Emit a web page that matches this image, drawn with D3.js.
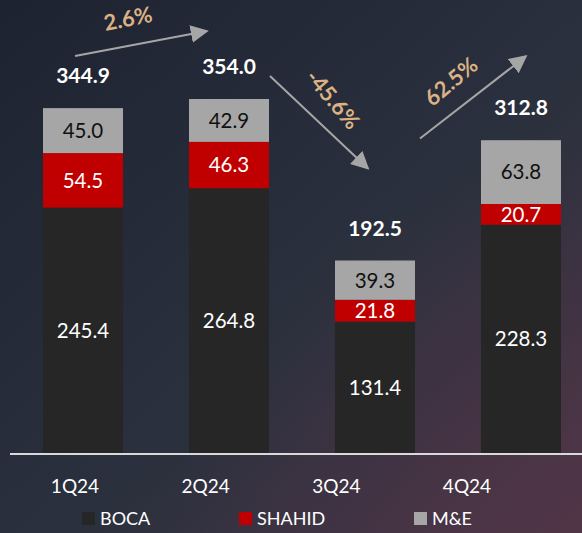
<!DOCTYPE html>
<html>
<head>
<meta charset="utf-8">
<script src="https://cdn.jsdelivr.net/npm/d3@7"></script>
<style>
  html, body { margin: 0; padding: 0; background: #1e2430; }
  svg { display: block; }
</style>
</head>
<body>
<div id="chart"></div>
<script>
// chart data
const quarters = ["1Q24", "2Q24", "3Q24", "4Q24"];
const boca = [245.4, 264.8, 131.4, 228.3];
const shahid = [54.5, 46.3, 21.8, 20.7];
const mande = [45.0, 42.9, 39.3, 63.8];
const totals = [344.9, 354.0, 192.5, 312.8];
const changes = ["2.6%", "-45.6%", "62.5%"];
const seriesNames = ["BOCA", "SHAHID", "M&E"];
const seriesColors = ["#262626", "#c00000", "#a6a6a6"];

const width = 582, height = 533;
const font = "Lato, 'Noto Sans', sans-serif";

const svg = d3.select('#chart').append('svg')
    .attr('width', width)
    .attr('height', height);

// background gradient (dark navy -> maroon at bottom right)
const defs = svg.append('defs');
const lin = defs.append('linearGradient').attr('id', 'bgLin')
    .attr('x1', 0).attr('y1', 0).attr('x2', 1).attr('y2', 1);
lin.append('stop').attr('offset', '0%').attr('stop-color', '#1d2330');
lin.append('stop').attr('offset', '55%').attr('stop-color', '#2a303d');
lin.append('stop').attr('offset', '100%').attr('stop-color', '#4a3647');
const rad = defs.append('radialGradient').attr('id', 'bgRad')
    .attr('cx', 1).attr('cy', 1).attr('r', 0.7);
rad.append('stop').attr('offset', '0%').attr('stop-color', '#5a3448').attr('stop-opacity', 0.45);
rad.append('stop').attr('offset', '100%').attr('stop-color', '#5a3448').attr('stop-opacity', 0);

svg.append('rect').attr('width', width).attr('height', height).attr('fill', 'url(#bgLin)');
svg.append('rect').attr('width', width).attr('height', height).attr('fill', 'url(#bgRad)');

// scales
const baseline = 453;
const x = d3.scaleBand()
    .domain(quarters)
    .range([43, 561])
    .paddingInner(0.452)
    .paddingOuter(0);
const y = d3.scaleLinear()
    .domain([0, 400])
    .range([baseline, baseline - 400]);
// the category labels sit on their own, tighter spacing
const xLabel = d3.scalePoint()
    .domain(quarters)
    .range([75, 467]);

// stack
const rows = quarters.map((q, i) => ({ q: q, BOCA: boca[i], SHAHID: shahid[i], "M&E": mande[i] }));
const stacked = d3.stack().keys(seriesNames)(rows);

const layers = svg.selectAll('g.layer')
    .data(stacked)
    .enter().append('g')
    .attr('class', 'layer')
    .attr('fill', (d, i) => seriesColors[i]);

layers.selectAll('rect')
    .data(d => d)
    .enter().append('rect')
    .attr('x', d => x(d.data.q))
    .attr('y', d => y(d[1]))
    .attr('width', x.bandwidth())
    .attr('height', d => y(d[0]) - y(d[1]));

// segment value labels
layers.each(function (layer, li) {
    d3.select(this).selectAll('text')
        .data(layer)
        .enter().append('text')
        .attr('x', d => x(d.data.q) + x.bandwidth() / 2)
        .attr('y', d => (y(d[0]) + y(d[1])) / 2)
        .attr('dy', '0.36em')
        .attr('text-anchor', 'middle')
        .text(d => (d[1] - d[0]).toFixed(1))
        .style('font-family', font)
        .style('font-size', '20.5px')
        .style('fill', li === 2 ? '#111111' : '#ffffff');
});

// totals above bars
svg.selectAll('text.total')
    .data(totals)
    .enter().append('text')
    .attr('class', 'total')
    .attr('x', (d, i) => x(quarters[i]) + x.bandwidth() / 2)
    .attr('y', d => y(d) - 25)
    .attr('text-anchor', 'middle')
    .text(d => d.toFixed(1))
    .style('font-family', font)
    .style('font-size', '21px')
    .style('font-weight', 'bold')
    .style('fill', '#ffffff');

// axis line
svg.append('line')
    .attr('x1', 10).attr('x2', width)
    .attr('y1', baseline + 1).attr('y2', baseline + 1)
    .attr('stroke', '#d9d9d9')
    .attr('stroke-width', 2);

// category labels
svg.selectAll('text.cat')
    .data(quarters)
    .enter().append('text')
    .attr('class', 'cat')
    .attr('x', d => xLabel(d))
    .attr('y', 493)
    .attr('text-anchor', 'middle')
    .text(d => d)
    .style('font-family', font)
    .style('font-size', '19px')
    .style('fill', '#ffffff');

// legend
const legendX = d3.scaleOrdinal().domain(seriesNames).range([82, 239, 414]);
const legend = svg.selectAll('g.legend')
    .data(seriesNames)
    .enter().append('g')
    .attr('class', 'legend')
    .attr('transform', d => `translate(${legendX(d)},512)`);
legend.append('rect')
    .attr('width', 13).attr('height', 13)
    .attr('fill', (d, i) => seriesColors[i]);
legend.append('text')
    .attr('x', 18).attr('y', 12.5)
    .text(d => d)
    .style('font-family', font)
    .style('font-size', '18px')
    .style('fill', '#ffffff');

// growth arrows between bars
defs.append('marker')
    .attr('id', 'head')
    .attr('viewBox', '0 0 10 10')
    .attr('refX', 9).attr('refY', 5)
    .attr('markerWidth', 9).attr('markerHeight', 9)
    .attr('markerUnits', 'strokeWidth')
    .attr('orient', 'auto')
    .append('path')
    .attr('d', 'M0,0 L10,5 L0,10 Z')
    .attr('fill', '#a6a6a6');

// offsets of arrow start/end relative to bar tops, and label placement
const arrowShape = [
    { s: [-8, -52], e: [-20, -70], l: [-14, -24], rot: -11 },
    { s: [41, -23], e: [-5, -90], l: [13, -24], rot: 50 },
    { s: [45, -122], e: [7, -86], l: [-23, -15], rot: -40 }
];

changes.forEach((c, i) => {
    const a = arrowShape[i];
    const cx0 = x(quarters[i]) + x.bandwidth() / 2;
    const cx1 = x(quarters[i + 1]) + x.bandwidth() / 2;
    const x0 = cx0 + a.s[0], y0 = y(totals[i]) + a.s[1];
    const x1 = cx1 + a.e[0], y1 = y(totals[i + 1]) + a.e[1];
    svg.append('line')
        .attr('x1', x0).attr('y1', y0)
        .attr('x2', x1 - 2 * Math.sign(x1 - x0)).attr('y2', y1 - 2 * Math.sign(y1 - y0))
        .attr('stroke', '#a6a6a6')
        .attr('stroke-width', 2)
        .attr('marker-end', 'url(#head)');
    const lx = (x0 + x1) / 2 + a.l[0], ly = (y0 + y1) / 2 + a.l[1];
    svg.append('text')
        .attr('transform', `translate(${lx},${ly}) rotate(${a.rot})`)
        .attr('text-anchor', 'middle')
        .attr('dy', '0.36em')
        .text(c)
        .style('font-family', font)
        .style('font-size', '22px')
        .style('font-weight', 'bold')
        .style('fill', '#dcb285');
});
</script>
</body>
</html>
